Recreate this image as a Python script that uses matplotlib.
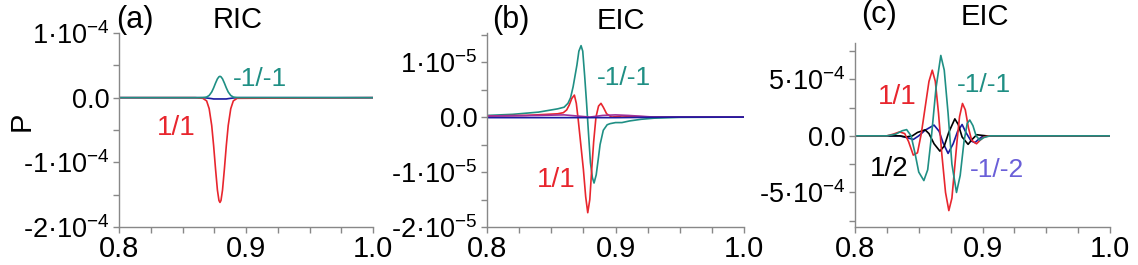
"""
P vs x for RIC / EIC, three panels
"""
import numpy as np
import matplotlib
matplotlib.use('Agg')
import matplotlib.pyplot as plt
from matplotlib.ticker import MultipleLocator, FuncFormatter

plt.rcParams['font.family'] = ['Liberation Sans', 'DejaVu Sans']
plt.rcParams['mathtext.fontset'] = 'custom'
plt.rcParams['mathtext.rm'] = 'Liberation Sans'
plt.rcParams['mathtext.default'] = 'regular'
plt.rcParams['axes.unicode_minus'] = False

# ---- data ----
# (a) RIC, units 1e-4
a_x = [0.80, 0.860, 0.866, 0.869, 0.871, 0.873, 0.8745, 0.876, 0.8775, 0.8787, 0.8795,
       0.8803, 0.8815, 0.883, 0.8845, 0.886, 0.888, 0.890, 0.893, 1.00]
a_11 = [0.0, 0.0, -0.01, -0.05, -0.17, -0.43, -0.74, -1.10, -1.43, -1.59, -1.62,
        -1.59, -1.43, -1.10, -0.74, -0.43, -0.17, -0.05, -0.01, 0.0]
a_m1m1 = [0.0, 0.0, 0.001, 0.01, 0.034, 0.088, 0.151, 0.225, 0.291, 0.323, 0.33,
          0.323, 0.291, 0.225, 0.151, 0.088, 0.034, 0.01, 0.001, 0.0]
a_blue = [0.0, 0.0, 0.0, -0.005, -0.01, -0.015, -0.02, -0.02, -0.02, -0.02, -0.02,
          -0.02, -0.02, -0.02, -0.02, -0.015, -0.01, -0.005, 0.0, 0.0]

# (b) EIC, units 1e-5
b_m1m1_x = [0.80, 0.82, 0.84, 0.855, 0.860, 0.863, 0.865, 0.867, 0.870, 0.8715, 0.8732,
            0.8745, 0.876, 0.8775, 0.879, 0.8805, 0.882, 0.8833, 0.885, 0.8866, 0.888,
            0.8905, 0.8935, 0.8957, 0.900, 0.905, 0.911, 0.920, 0.930, 0.950, 1.00]
b_m1m1 = [0.03, 0.05, 0.09, 0.15, 0.18, 0.25, 0.35, 0.55, 0.95, 1.20, 1.30,
          1.20, 0.75, 0.25, -0.30, -0.83, -1.10, -1.20, -1.05, -0.76, -0.50,
          -0.24, -0.14, -0.12, -0.10, -0.10, -0.07, -0.04, -0.02, -0.005, 0.0]
b_11_x = [0.80, 0.83, 0.855, 0.8594, 0.862, 0.864, 0.866, 0.868, 0.8695, 0.871, 0.873,
          0.875, 0.8768, 0.8784, 0.880, 0.8815, 0.883, 0.8848, 0.8868, 0.8887, 0.8905,
          0.8931, 0.897, 0.905, 0.915, 0.930, 1.00]
b_11 = [0.02, 0.03, 0.06, 0.08, 0.13, 0.22, 0.34, 0.40, 0.25, -0.05, -0.50,
        -0.95, -1.45, -1.74, -1.50, -0.95, -0.45, 0.0, 0.20, 0.25, 0.18,
        0.06, 0.0, 0.02, 0.01, 0.0, 0.0]
b_purple_x = [0.80, 0.84, 0.86, 0.87, 0.88, 0.89, 0.90, 0.91, 0.93, 1.00]
b_purple = [0.02, 0.03, 0.04, 0.02, 0.0, 0.03, 0.04, 0.03, 0.0, 0.0]
b_blue_x = [0.80, 0.90, 0.95, 1.00]
b_blue = [-0.01, -0.01, 0.0, 0.0]

# (c) EIC, units 1e-4
c_11_x = [0.80, 0.825, 0.830, 0.835, 0.839, 0.842, 0.8457, 0.849, 0.852, 0.855, 0.858,
          0.8606, 0.863, 0.8655, 0.868, 0.871, 0.8736, 0.876, 0.878, 0.880, 0.882,
          0.8843, 0.8865, 0.889, 0.8915, 0.8953, 0.898, 0.901, 0.905, 1.00]
c_11 = [0.0, 0.0, 0.15, 0.35, 0.2, -0.5, -1.7, -1.5, 0.2, 2.5, 4.8,
        5.8, 4.8, 2.0, -1.5, -5.0, -6.6, -5.5, -3.0, -0.5, 1.7,
        2.86, 2.3, 0.7, -0.4, -0.7, -0.4, -0.1, 0.0, 0.0]
c_m1m1_x = [0.80, 0.825, 0.832, 0.837, 0.8405, 0.844, 0.847, 0.850, 0.854, 0.857, 0.860,
            0.8635, 0.8673, 0.870, 0.873, 0.876, 0.8796, 0.8825, 0.8855, 0.888, 0.890,
            0.8925, 0.895, 0.8979, 0.901, 0.906, 1.00]
c_m1m1 = [0.0, 0.0, 0.15, 0.45, 0.55, 0.0, -1.5, -3.2, -3.95, -3.0, 0.0,
          4.2, 7.1, 5.8, 2.0, -2.5, -5.0, -3.5, -0.5, 1.1, 1.4,
          0.9, 0.0, -0.38, -0.15, 0.0, 0.0]
c_12_x = [0.80, 0.835, 0.840, 0.845, 0.849, 0.855, 0.858, 0.862, 0.8666, 0.870, 0.8735,
          0.8783, 0.881, 0.884, 0.8887, 0.892, 0.8955, 0.899, 0.903, 1.00]
c_12 = [0.0, 0.0, -0.1, 0.0, 0.3, 0.53, 0.2, -0.7, -1.35, -0.9, 0.3,
        1.5, 1.0, -0.1, -0.75, -0.3, 0.1, 0.05, 0.0, 0.0]
c_m1m2_x = [0.80, 0.835, 0.8405, 0.8457, 0.850, 0.855, 0.862, 0.866, 0.869, 0.873, 0.877,
            0.8805, 0.884, 0.887, 0.891, 0.894, 0.897, 0.900, 0.905, 1.00]
c_m1m2 = [0.0, 0.0, -0.15, -0.32, 0.0, 0.5, 0.95, 0.4, -0.6, -1.55, -0.7,
          0.4, 1.0, 0.3, -0.45, -0.6, -0.3, -0.05, 0.0, 0.0]

RED = '#e8262e'
TEAL = '#1f8f84'
BLUE = '#1a1aa0'
PURPLE = '#a0309a'
LAB_BLUE = '#6a5fd8'
GRAY = '#888888'

W, H = 1138, 265
fig = plt.figure(figsize=(W / 100, H / 100), dpi=100)


def px_axes(x0, x1, y_top, y_bot):
    return fig.add_axes([x0 / W, 1 - y_bot / H, (x1 - x0) / W, (y_bot - y_top) / H])


def sci_fmt(v, pos):
    if abs(v) < 1e-12:
        return '0.0'
    e = int(np.floor(np.log10(abs(v)) + 1e-9))
    m = v / 10 ** e
    return f'{m:.0f}·10$^{{{e}}}$'


def style(ax, ylim, ymaj, ymin):
    ax.set_xlim(0.8, 1.0)
    ax.set_ylim(*ylim)
    for s in ['top', 'right']:
        ax.spines[s].set_visible(False)
    for s in ['left', 'bottom']:
        ax.spines[s].set_color(GRAY)
        ax.spines[s].set_linewidth(1.0)
    ax.xaxis.set_major_locator(MultipleLocator(0.1))
    ax.xaxis.set_minor_locator(MultipleLocator(0.025))
    ax.xaxis.set_major_formatter(FuncFormatter(lambda v, p: f'{v:.1f}'))
    ax.yaxis.set_major_locator(MultipleLocator(ymaj))
    ax.yaxis.set_minor_locator(MultipleLocator(ymin))
    ax.yaxis.set_major_formatter(FuncFormatter(sci_fmt))
    ax.tick_params(which='both', direction='out', length=4, width=1, color=GRAY)
    ax.tick_params(axis='x', labelsize=21, pad=2)
    ax.tick_params(axis='y', labelsize=19.5, pad=3)


def ftext(x, y, s, color='black', size=20, ha='left'):
    fig.text(x / W, 1 - y / H, s, color=color, fontsize=size, ha=ha, va='baseline')


lw = 1.2

# (a)
ax = px_axes(119, 373, 33, 227)
a_x_ = np.array(a_x)
ax.plot(a_x_, np.array(a_blue) * 1e-4, color=BLUE, lw=lw)
ax.plot(a_x_, np.array(a_11) * 1e-4, color=RED, lw=lw)
ax.plot([0.8] + a_x + [1.0], np.array([0.0] + a_m1m1 + [0.0]) * 1e-4, color=TEAL, lw=lw)
style(ax, (-2e-4, 1e-4), 1e-4, 0.5e-4)
ftext(116, 28, '(a)', size=22)
ftext(238, 28, 'RIC', ha='center', size=21)
ftext(233, 86, '-1/-1', TEAL, 19)
ftext(157, 135, '1/1', RED, 20)
fig.text(22 / W, 1 - 121 / H, 'P', fontsize=21, rotation=90, ha='center', va='center')

# (b)
ax = px_axes(487, 744, 33, 227)
ax.plot(b_m1m1_x, np.array(b_m1m1) * 1e-5, color=TEAL, lw=lw)
ax.plot(b_11_x, np.array(b_11) * 1e-5, color=RED, lw=lw)
ax.plot(b_purple_x, np.array(b_purple) * 1e-5, color=PURPLE, lw=lw)
ax.plot(b_blue_x, np.array(b_blue) * 1e-5, color=BLUE, lw=lw)
style(ax, (-2e-5, 1.53e-5), 1e-5, 0.5e-5)
ftext(492, 28, '(b)', size=22)
ftext(621, 29, 'EIC', ha='center', size=21)
ftext(597, 85, '-1/-1', TEAL, 19)
ftext(537, 187, '1/1', RED, 20)

# (c)
ax = px_axes(855, 1110, 43, 227)
ax.plot(c_m1m2_x, np.array(c_m1m2) * 1e-4, color=BLUE, lw=lw)
ax.plot(c_12_x, np.array(c_12) * 1e-4, color='black', lw=lw)
ax.plot(c_11_x, np.array(c_11) * 1e-4, color=RED, lw=lw)
ax.plot(c_m1m1_x, np.array(c_m1m1) * 1e-4, color=TEAL, lw=lw)
style(ax, (-8.05e-4, 8.2e-4), 5e-4, 2.5e-4)
ftext(861, 23, '(c)', size=22)
ftext(985, 25, 'EIC', ha='center', size=21)
ftext(878, 104, '1/1', RED, 20)
ftext(957, 92, '-1/-1', TEAL, 19)
ftext(870, 176, '1/2', 'black', 20)
ftext(970, 177, '-1/-2', LAB_BLUE, 19)

plt.savefig('out.png', dpi=100)
plt.close()
